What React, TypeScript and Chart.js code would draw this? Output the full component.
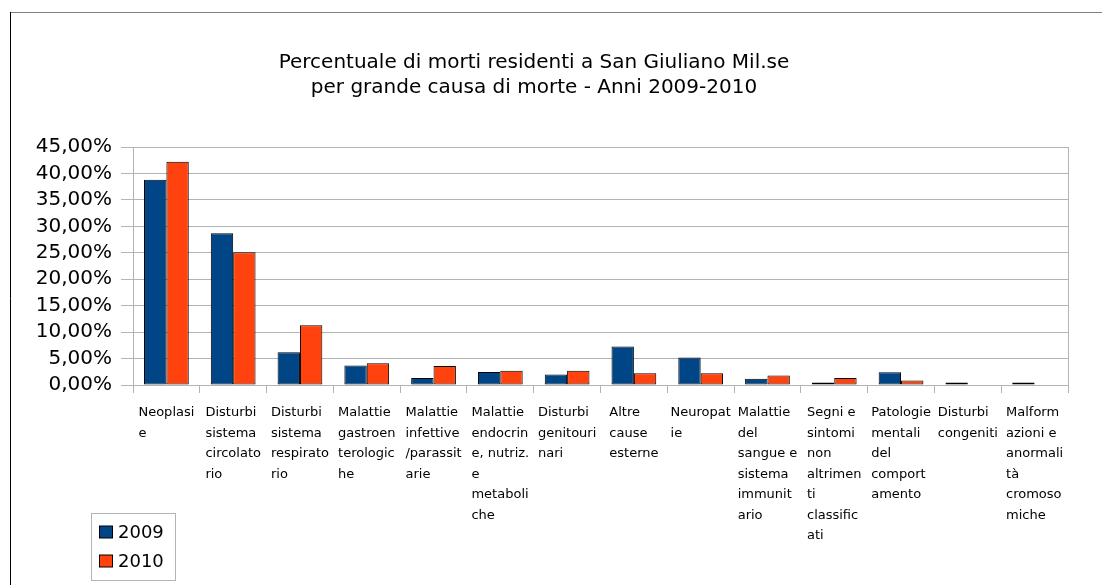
import React, { useEffect, useRef } from "react";
import { Chart, registerables } from "chart.js";

Chart.register(...registerables);

const categories: string[][] = [
  ["Neoplasi", "e"],
  ["Disturbi", "sistema", "circolato", "rio"],
  ["Disturbi", "sistema", "respirato", "rio"],
  ["Malattie", "gastroen", "terologic", "he"],
  ["Malattie", "infettive", "/parassit", "arie"],
  ["Malattie", "endocrin", "e, nutriz.", "e", "metaboli", "che"],
  ["Disturbi", "genitouri", "nari"],
  ["Altre", "cause", "esterne"],
  ["Neuropat", "ie"],
  ["Malattie", "del", "sangue e", "sistema", "immunit", "ario"],
  ["Segni e", "sintomi", "non", "altrimen", "ti", "classific", "ati"],
  ["Patologie", "mentali", "del", "comport", "amento"],
  ["Disturbi", "congeniti"],
  ["Malform", "azioni e", "anormali", "tà", "cromoso", "miche"],
];

const values2009: number[] = [38.8, 28.7, 6.2, 3.7, 1.3, 2.45, 2.0, 7.3, 5.2, 1.2, 0.45, 2.4, 0.45, 0.45];
const values2010: number[] = [42.2, 25.1, 11.3, 4.1, 3.6, 2.7, 2.7, 2.2, 2.2, 1.8, 1.3, 0.85, 0, 0];

const seriesNames: string[] = ["2009", "2010"];
const seriesColors: string[] = ["#004586", "#ff420e"];

const titleLines: string[] = [
  "Percentuale di morti residenti a San Giuliano Mil.se",
  "per grande causa di morte - Anni 2009-2010",
];

const yMax = 45;
const yStep = 5;

const FONT = "'DejaVu Sans', sans-serif";
const GRID = "#b3b3b3";

const framePlugin = {
  id: "frame",
  beforeDraw(chart: any) {
    const ctx = chart.ctx;
    ctx.save();
    ctx.fillStyle = "#fff";
    ctx.fillRect(0, 0, chart.width, chart.height);
    ctx.lineWidth = 1;
    ctx.strokeStyle = "#808080";
    ctx.beginPath();
    ctx.moveTo(10, 12.5);
    ctx.lineTo(chart.width, 12.5);
    ctx.stroke();
    ctx.strokeStyle = "#000";
    ctx.beginPath();
    ctx.moveTo(10.5, 12);
    ctx.lineTo(10.5, chart.height);
    ctx.stroke();
    ctx.restore();
  },
  beforeDatasetsDraw(chart: any) {
    const { ctx, chartArea } = chart;
    ctx.save();
    ctx.strokeStyle = GRID;
    ctx.lineWidth = 1;
    ctx.beginPath();
    const x = Math.round(chartArea.right) + 0.5;
    ctx.moveTo(x, chartArea.top);
    ctx.lineTo(x, chartArea.bottom);
    ctx.stroke();
    ctx.restore();
  },
};

const xLabelPlugin = {
  id: "xLabels",
  afterDraw(chart: any) {
    const ctx = chart.ctx;
    const xs = chart.scales.x;
    ctx.save();
    ctx.font = `13px ${FONT}`;
    ctx.fillStyle = "#000";
    ctx.textAlign = "left";
    ctx.textBaseline = "middle";
    categories.forEach((lines, i) => {
      const cx = xs.getPixelForValue(i);
      const w = Math.max(...lines.map((l) => ctx.measureText(l).width));
      const left = cx - w / 2;
      lines.forEach((l, k) => ctx.fillText(l, left, xs.top + 28 + k * 20.5));
    });
    ctx.restore();
  },
};

const legendPlugin = {
  id: "customLegend",
  afterDraw(chart: any) {
    const ctx = chart.ctx;
    const bx = 91.5, by = 513.5, bw = 84, bh = 67;
    ctx.save();
    ctx.fillStyle = "#fff";
    ctx.fillRect(bx, by, bw, bh);
    ctx.strokeStyle = GRID;
    ctx.lineWidth = 1;
    ctx.strokeRect(bx, by, bw, bh);
    ctx.font = `18px ${FONT}`;
    ctx.textBaseline = "middle";
    ctx.textAlign = "left";
    seriesNames.forEach((name, i) => {
      const cy = 532 + i * 29;
      ctx.fillStyle = seriesColors[i];
      ctx.fillRect(99.5, cy - 6, 13, 12);
      ctx.strokeStyle = "#000";
      ctx.strokeRect(99.5, cy - 6, 13, 12);
      ctx.fillStyle = "#000";
      ctx.fillText(name, 118, cy + 1);
    });
    ctx.restore();
  },
};

export default function App() {
  const ref = useRef<HTMLCanvasElement>(null);
  useEffect(() => {
    if (!ref.current) return;
    const border = (c: any) => (c.raw === 0 ? 0 : 1);
    const chart = new Chart(ref.current, {
      type: "bar",
      data: {
        labels: categories.map((l) => l.join(" ")),
        datasets: [
          {
            label: seriesNames[0],
            data: values2009,
            backgroundColor: seriesColors[0],
            borderColor: "#000",
            borderWidth: border,
            borderSkipped: false,
            categoryPercentage: 0.67,
            barPercentage: 1,
          },
          {
            label: seriesNames[1],
            data: values2010,
            backgroundColor: seriesColors[1],
            borderColor: "#000",
            borderWidth: border,
            borderSkipped: false,
            categoryPercentage: 0.67,
            barPercentage: 1,
          },
        ],
      },
      options: {
        responsive: false,
        animation: false,
        layout: { padding: { left: 0, right: 34, top: 0, bottom: 0 } },
        plugins: {
          legend: { display: false },
          tooltip: { enabled: false },
          title: {
            display: true,
            text: titleLines,
            color: "#000",
            font: { family: FONT, size: 20, weight: "normal", lineHeight: 1.25 },
            padding: { top: 50, bottom: 47 },
          },
        },
        scales: {
          x: {
            offset: true,
            grid: {
              offset: true,
              drawOnChartArea: false,
              drawTicks: true,
              tickLength: 8,
              color: GRID,
            },
            border: { color: GRID },
            ticks: { display: false },
            afterFit: (s: any) => {
              s.height = 200;
              s.paddingLeft = 0;
              s.paddingRight = 0;
            },
          },
          y: {
            min: 0,
            max: yMax,
            grid: { color: GRID, tickLength: 12 },
            border: { color: GRID },
            ticks: {
              stepSize: yStep,
              autoSkip: false,
              padding: 9,
              color: "#000",
              font: { family: FONT, size: 20 },
              callback: (v: any) => Number(v).toFixed(2).replace(".", ",") + "%",
            },
            afterFit: (s: any) => {
              s.width = 133;
            },
          },
        },
      },
      plugins: [framePlugin, xLabelPlugin, legendPlugin],
    });
    return () => chart.destroy();
  }, []);
  return (
    <div style={{ position: "fixed", left: 0, top: 0, width: 1102, height: 585 }}>
      <canvas ref={ref} width={1102} height={585} style={{ display: "block" }} />
    </div>
  );
}
